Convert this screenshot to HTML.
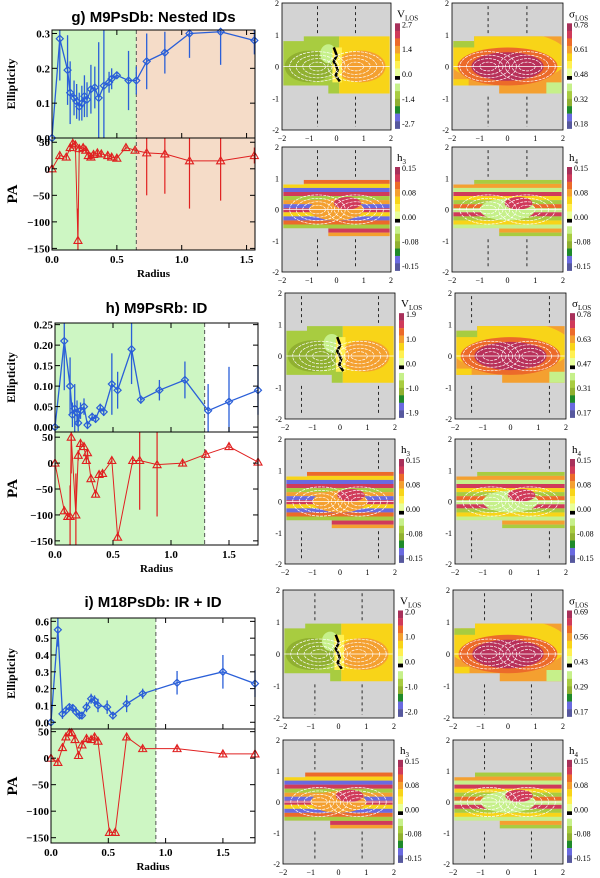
<!DOCTYPE html>
<html><head><meta charset="utf-8">
<style>
body{margin:0;background:#fff;}
svg{display:block;font-family:"Liberation Serif",serif;}
.t{font-family:"Liberation Sans",sans-serif;font-weight:bold;}
</style></head>
<body>
<svg id="fig" width="600" height="878" viewBox="0 0 600 878" xmlns="http://www.w3.org/2000/svg"></svg>
<script>
// ---------- Panel g data ----------
const gR  = [0.0,0.06,0.12,0.14,0.17,0.19,0.21,0.23,0.25,0.27,0.30,0.33,0.36,0.40,0.44,0.46,0.50,0.59,0.65,0.73,0.87,1.06,1.30,1.56];
const gE  = [0.0,0.285,0.195,0.13,0.115,0.105,0.09,0.10,0.12,0.11,0.14,0.145,0.115,0.15,0.16,0.17,0.18,0.165,0.165,0.22,0.245,0.30,0.305,0.28];
const gEe = [0.0,0.12,0.1,0.09,0.05,0.05,0.04,0.05,0.06,0.05,0.07,0.06,0.16,0.16,0.03,0.03,0.01,0.085,0.04,0.08,0.06,0.07,0.095,0.04];
const gPR = [0.0,0.06,0.11,0.14,0.16,0.18,0.20,0.21,0.24,0.26,0.28,0.30,0.32,0.35,0.38,0.43,0.46,0.50,0.57,0.64,0.73,0.87,1.06,1.30,1.56];
const gP  = [0,25,22,40,48,45,-135,38,40,35,25,22,27,30,28,25,22,20,40,35,30,28,15,15,25];
const gPe = [0,5,5,8,6,6,60,8,6,5,6,5,5,5,5,8,6,5,4,4,80,75,90,75,15];
// ---------- Panel h data ----------
const hR  = [0.0,0.08,0.13,0.15,0.17,0.19,0.20,0.22,0.25,0.28,0.32,0.35,0.39,0.42,0.49,0.54,0.66,0.74,0.90,1.12,1.32,1.50,1.75];
const hE  = [0.0,0.21,0.10,0.03,0.045,0.035,0.01,0.04,0.05,0.005,0.025,0.02,0.047,0.037,0.105,0.09,0.19,0.067,0.09,0.115,0.04,0.062,0.09];
const hEe = [0.0,0.12,0.07,0.03,0.06,0.03,0.02,0.02,0.02,0.01,0.01,0.01,0.01,0.01,0.075,0.045,0.085,0.01,0.025,0.045,0.065,0.085,0.06];
const hPR = [0.0,0.08,0.11,0.13,0.14,0.18,0.20,0.22,0.25,0.27,0.28,0.31,0.35,0.38,0.41,0.49,0.54,0.67,0.73,0.88,1.10,1.30,1.50,1.75];
const hP  = [0,-92,-103,-103,50,-100,15,38,32,5,20,-30,-60,-22,-20,5,-143,5,5,-3,0,17,32,2];
const hPe = [0,6,6,60,70,80,10,6,6,6,6,6,6,6,6,6,6,8,95,100,6,6,6,6];
// ---------- Panel i data ----------
const iR  = [0.0,0.06,0.10,0.13,0.16,0.19,0.22,0.25,0.27,0.31,0.35,0.38,0.41,0.49,0.54,0.66,0.80,1.10,1.50,1.78];
const iE  = [0.0,0.55,0.05,0.07,0.09,0.085,0.06,0.04,0.04,0.09,0.14,0.13,0.10,0.09,0.04,0.11,0.17,0.235,0.30,0.23];
const iEe = [0.0,0.1,0.03,0.02,0.02,0.02,0.02,0.02,0.02,0.03,0.03,0.03,0.04,0.04,0.02,0.05,0.03,0.07,0.1,0.08];
const iPR = [0.0,0.06,0.10,0.13,0.16,0.18,0.21,0.24,0.27,0.31,0.35,0.38,0.41,0.51,0.56,0.66,0.80,1.10,1.50,1.78];
const iP  = [0,-8,20,40,48,48,35,5,25,37,35,40,32,-140,-140,40,18,18,8,8];
const iPe = [0,5,5,5,5,5,5,5,5,5,5,5,5,5,5,5,5,5,5,5];
// ---------- Colorbar tick labels ----------
const cbV_g = ["2.7","1.4","0.0","-1.4","-2.7"];
const cbS_g = ["0.78","0.61","0.48","0.32","0.18"];
const cbH   = ["0.15","0.08","0.00","-0.08","-0.15"];
const cbV_h = ["1.9","1.0","0.0","-1.0","-1.9"];
const cbS_h = ["0.78","0.63","0.47","0.31","0.17"];
const cbV_i = ["2.0","1.0","0.0","-1.0","-2.0"];
const cbS_i = ["0.69","0.56","0.43","0.29","0.17"];
const ellTicks_g = [0,0.1,0.2,0.3];
const ellTicks_h = [0,0.05,0.10,0.15,0.20,0.25];
const ellTicks_i = [0,0.1,0.2,0.3,0.4,0.5,0.6];
const paTicks = [50,0,-50,-100,-150];
const xTicks = [0,0.5,1.0,1.5];

const NS="http://www.w3.org/2000/svg";
const svg=document.getElementById('fig');
function el(tag,attrs,parent,text){const e=document.createElementNS(NS,tag);for(const k in attrs)e.setAttribute(k,attrs[k]);if(text!==undefined)e.textContent=text;(parent||svg).appendChild(e);return e;}

function grp(name){const g=el('g',{});


return g;}

function profile(cfg){
  const G=grp(cfg.name);
  const X=r=>cfg.x0+(r/cfg.xmax)*(cfg.x1-cfg.x0);
  const YE=v=>cfg.ey1-(v-cfg.emin)/(cfg.emax-cfg.emin)*(cfg.ey1-cfg.ey0);
  const YP=v=>cfg.py1-(v-cfg.pmin)/(cfg.pmax-cfg.pmin)*(cfg.py1-cfg.py0);
  const W=cfg.x1-cfg.x0;
  // shading
  el('rect',{x:cfg.x0,y:cfg.ey0,width:X(cfg.shade)-cfg.x0,height:cfg.py1-cfg.ey0,fill:'#cdf6c3'},G);
  if(cfg.peach) el('rect',{x:X(cfg.shade),y:cfg.ey0,width:cfg.x1-X(cfg.shade),height:cfg.py1-cfg.ey0,fill:'#f5dcc8'},G);
  el('line',{x1:X(cfg.shade),x2:X(cfg.shade),y1:cfg.ey0,y2:cfg.py1,stroke:'#555','stroke-dasharray':'4,3','stroke-width':1},G);
  // title
  const t=el('text',{x:(cfg.x0+cfg.x1)/2,y:cfg.ty,'text-anchor':'middle','font-size':15,class:'t',fill:'#000'},G,cfg.title);
  
  
  // ellipticity series
  const ep=cfg.R.map((r,i)=>X(r)+','+YE(cfg.E[i])).join(' ');
  cfg.R.forEach((r,i)=>{ if(cfg.Ee[i]>0){el('line',{x1:X(r),x2:X(r),y1:Math.max(cfg.ey0,YE(cfg.E[i]+cfg.Ee[i])),y2:Math.min(cfg.ey1,YE(cfg.E[i]-cfg.Ee[i])),stroke:'#2a5fd8','stroke-width':1.3},G);} });
  const pl=el('polyline',{points:ep,fill:'none',stroke:'#2a5fd8','stroke-width':1.3},G);
  
  
  cfg.R.forEach((r,i)=>{const x=X(r),y=YE(cfg.E[i]);
    const d=el('polygon',{points:`${x},${y-3.5} ${x+3.5},${y} ${x},${y+3.5} ${x-3.5},${y}`,fill:'none',stroke:'#2a5fd8','stroke-width':1.2},G);
    
    });
  // PA series
  cfg.PR.forEach((r,i)=>{el('line',{x1:X(r),x2:X(r),y1:Math.max(cfg.py0,YP(cfg.P[i]+cfg.Pe[i])),y2:Math.min(cfg.py1,YP(cfg.P[i]-cfg.Pe[i])),stroke:'#e02020','stroke-width':1.2},G);});
  const pp=el('polyline',{points:cfg.PR.map((r,i)=>X(r)+','+YP(cfg.P[i])).join(' '),fill:'none',stroke:'#e02020','stroke-width':1},G);
  
  
  cfg.PR.forEach((r,i)=>{const x=X(r),y=YP(cfg.P[i]);
    const d=el('polygon',{points:`${x},${y-4} ${x+4},${y+3} ${x-4},${y+3}`,fill:'none',stroke:'#e02020','stroke-width':1.1},G);
    
    });
  // frames
  el('rect',{x:cfg.x0,y:cfg.ey0,width:W,height:cfg.ey1-cfg.ey0,fill:'none',stroke:'#000','stroke-width':1},G);
  el('rect',{x:cfg.x0,y:cfg.py0,width:W,height:cfg.py1-cfg.py0,fill:'none',stroke:'#000','stroke-width':1},G);
  // y ticks
  cfg.eT.forEach(v=>{const y=YE(v);el('line',{x1:cfg.x0,x2:cfg.x0+5,y1:y,y2:y,stroke:'#000'},G);el('line',{x1:cfg.x1,x2:cfg.x1-5,y1:y,y2:y,stroke:'#000'},G);
    el('text',{x:cfg.x0-2,y:y+4,'text-anchor':'end','font-size':11,'font-weight':'bold'},G,v.toFixed(cfg.edec));});
  paTicks.forEach(v=>{const y=YP(v);el('line',{x1:cfg.x0,x2:cfg.x0+5,y1:y,y2:y,stroke:'#000'},G);el('line',{x1:cfg.x1,x2:cfg.x1-5,y1:y,y2:y,stroke:'#000'},G);
    el('text',{x:cfg.x0-2,y:y+4,'text-anchor':'end','font-size':11,'font-weight':'bold'},G,v<0?'\u2212'+(-v):String(v));});
  xTicks.forEach(v=>{const x=X(v);[cfg.ey1,cfg.py1].forEach(yb=>el('line',{x1:x,x2:x,y1:yb,y2:yb-5,stroke:'#000'},G));
    el('line',{x1:x,x2:x,y1:cfg.ey0,y2:cfg.ey0+5,stroke:'#000'},G);
    el('text',{x:x,y:cfg.py1+13,'text-anchor':'middle','font-size':11,'font-weight':'bold'},G,v.toFixed(1));});
  el('text',{x:(cfg.x0+cfg.x1)/2,y:cfg.py1+27,'text-anchor':'middle','font-size':11,'font-weight':'bold'},G,'Radius');
  const ey=(cfg.ey0+cfg.ey1)/2, py=(cfg.py0+cfg.py1)/2;
  el('text',{x:15,y:ey,'text-anchor':'middle','font-size':12,'font-weight':'bold',transform:`rotate(-90 15 ${ey})`},G,'Ellipticity');
  el('text',{x:17,y:py,'text-anchor':'middle','font-size':15,'font-weight':'bold',transform:`rotate(-90 17 ${py})`},G,'PA');
}

profile({name:'panel-g-profiles',title:'g) M9PsDb: Nested IDs',ty:22,x0:52,x1:255,xmax:1.565,ey0:30,ey1:138,py0:138,py1:250,emin:0,emax:0.31,pmin:-153,pmax:58,shade:0.65,peach:true,R:gR,E:gE,Ee:gEe,PR:gPR,P:gP,Pe:gPe,eT:ellTicks_g,edec:1});
profile({name:'panel-h-profiles',title:'h) M9PsRb: ID',ty:313,x0:55,x1:258,xmax:1.75,ey0:323,ey1:432,py0:432,py1:545,emin:-0.012,emax:0.254,pmin:-158,pmax:60,shade:1.29,peach:false,R:hR,E:hE,Ee:hEe,PR:hPR,P:hP,Pe:hPe,eT:ellTicks_h,edec:2});
profile({name:'panel-i-profiles',title:'i) M18PsDb: IR + ID',ty:607,x0:51,x1:255,xmax:1.78,ey0:618,ey1:729,py0:729,py1:843,emin:-0.04,emax:0.62,pmin:-160,pmax:55,shade:0.915,peach:false,R:iR,E:iE,Ee:iEe,PR:iPR,P:iP,Pe:iPe,eT:ellTicks_i,edec:1});

// ---------- Maps ----------
const bands=['#a8305a','#d03a5a','#ec6a2a','#f4a030','#f8d418','#fff050','#e8ff9a','#000000','#c6f08a','#a8cc40','#90b030','#1e8a2a','#6a6ae0','#56589e'];
let cid=0;
function mapPanel(name,x,y,w,h,type,labels,title,dash){
  const G=grp(name);
  const MX=v=>x+(v+2)/4*w, MY=v=>y+(2-v)/4*h;
  el('rect',{x:x,y:y,width:w,height:h,fill:'#d3d3d3'},G);
  cid++;const id='c'+cid;
  const cp=el('clipPath',{id:id},G);
  el('path',{d:`M${MX(-1.95)},${MY(0.8)} L${MX(-1.2)},${MY(0.8)} L${MX(-1.2)},${MY(0.95)} L${MX(1.95)},${MY(0.95)} L${MX(1.95)},${MY(-0.85)} L${MX(-0.3)},${MY(-0.85)} L${MX(-0.3)},${MY(-0.6)} L${MX(-1.95)},${MY(-0.6)} Z`},cp);
  const D=el('g',{'clip-path':`url(#${id})`},G);
  const R=(a,b,c,d,f)=>el('rect',{x:MX(a),y:MY(d),width:MX(c)-MX(a),height:MY(b)-MY(d),fill:f},D);
  const E=(cx,cy,rx,ry,f)=>el('ellipse',{cx:MX(cx),cy:MY(cy),rx:rx/4*w,ry:ry/4*h,fill:f},D);
  if(type==='v'){
    R(-2,-1,0.1,1,'#a8cc40');R(0.1,-1,2,1,'#f8d418');
    E(0.9,0,0.9,0.5,'#f4a030');E(-1.0,0,0.9,0.5,'#90b030');E(-0.3,0.4,0.3,0.3,'#c6f08a');
    R(-0.15,-0.5,0.2,0.6,'#fff050');
    el('path',{d:`M${MX(-0.1)},${MY(0.6)} l3,8 l-3,6 l4,8 l-2,6 l4,6`,stroke:'#000','stroke-width':2.5,fill:'none'},D);
  } else if(type==='s'){
    R(-2,-1,2,1,'#f4a030');
    E(0,0.3,2.2,0.8,'#f8d418');E(0,0,1.8,0.6,'#ec6a2a');E(0,0,1.3,0.45,'#b8305a');
    R(-2,0.6,-1.2,1,'#a8cc40');R(1.4,-1,2,-0.5,'#c6f08a');R(-2,-1,-1.4,-0.4,'#f8d418');
  } else {
    const cols=type==='h3'?['#ec6a2a','#f8d418','#6a6ae0','#d03a5a','#a8cc40','#f4a030','#6a6ae0','#d03a5a','#f8d418','#6a6ae0','#ec6a2a','#a8cc40','#d03a5a','#f4a030']:
      ['#a8cc40','#f4a030','#c6f08a','#d03a5a','#f8d418','#a8cc40','#ec6a2a','#c6f08a','#d03a5a','#a8cc40','#f8d418','#c6f08a','#f4a030','#a8cc40'];
    cols.forEach((c,i)=>R(-2,0.95-(i+1)*0.13,2,0.95-i*0.13,c));
    E(0,0,1.0,0.35,type==='h3'?'#f4a030':'#c6f08a');E(0.4,0.2,0.5,0.2,'#d03a5a');
  }
  // contours
  [0.25,0.45,0.65,0.85].forEach(s=>{
    el('ellipse',{cx:MX(-0.7),cy:MY(0),rx:s*1.2/4*w,ry:s*0.55/4*h,fill:'none',stroke:'#fff','stroke-width':0.7,'stroke-dasharray':'3,1'},D);
    el('ellipse',{cx:MX(0.7),cy:MY(0),rx:s*1.2/4*w,ry:s*0.55/4*h,fill:'none',stroke:'#fff','stroke-width':0.7,'stroke-dasharray':'3,1'},D);
  });
  el('line',{x1:MX(-2),x2:MX(2),y1:MY(0),y2:MY(0),stroke:'#fff','stroke-width':0.8},D);
  [-dash,dash].forEach(d=>{
    el('line',{x1:MX(d),x2:MX(d),y1:MY(1.9),y2:MY(1.05),stroke:'#000','stroke-width':0.8,'stroke-dasharray':'3,3'},G);
    el('line',{x1:MX(d),x2:MX(d),y1:MY(-0.95),y2:MY(-1.9),stroke:'#000','stroke-width':0.8,'stroke-dasharray':'3,3'},G);});
  el('rect',{x:x,y:y,width:w,height:h,fill:'none',stroke:'#000','stroke-width':0.8},G);
  [-2,-1,0,1,2].forEach(v=>{
    el('text',{x:x-3,y:MY(v)+3,'text-anchor':'end','font-size':8},G,String(v));
    el('text',{x:MX(v),y:y+h+11,'text-anchor':'middle','font-size':8},G,v<0?'\u2212'+(-v):String(v));});
  // colorbar
  const cx=x+w+4, cy0=y+h*0.16, cy1=y+h*0.99, bh=(cy1-cy0)/bands.length;
  const cb=grp('colorbar');G.appendChild(cb);
  bands.forEach((c,i)=>el('rect',{x:cx,y:cy0+i*bh,width:5,height:bh*(c==='#000000'?0.5:1.02),fill:c},cb));
  labels.forEach((l,i)=>el('text',{x:cx+7,y:cy0+4+i*(cy1-cy0-6)/4,'font-size':8},cb,l));
  const tt=el('text',{x:cx+2,y:cy0-6,'font-size':11},cb);
  const parts=title.split('_');
  el('tspan',{},tt,parts[0]);
  if(parts[1])el('tspan',{'font-size':7,dy:3},tt,parts[1]);
}
mapPanel('map-g-vlos',282,3,109,127,'v',cbV_g,'V_LOS',0.7);
mapPanel('map-g-sigma',452,3,111,127,'s',cbS_g,'σ_LOS',0.7);
mapPanel('map-g-h3',282,147,109,125,'h3',cbH,'h_3',0.7);
mapPanel('map-g-h4',452,147,111,125,'h4',cbH,'h_4',0.7);
mapPanel('map-h-vlos',285,293,110,126,'v',cbV_h,'V_LOS',1.4);
mapPanel('map-h-sigma',455,293,111,126,'s',cbS_h,'σ_LOS',1.4);
mapPanel('map-h-h3',285,439,110,125,'h3',cbH,'h_3',1.4);
mapPanel('map-h-h4',455,439,111,125,'h4',cbH,'h_4',1.4);
mapPanel('map-i-vlos',283,590,111,128,'v',cbV_i,'V_LOS',0.85);
mapPanel('map-i-sigma',453,590,110,128,'s',cbS_i,'σ_LOS',0.85);
mapPanel('map-i-h3',283,740,111,124,'h3',cbH,'h_3',0.85);
mapPanel('map-i-h4',453,740,110,124,'h4',cbH,'h_4',0.85);
</script>
</body></html>
